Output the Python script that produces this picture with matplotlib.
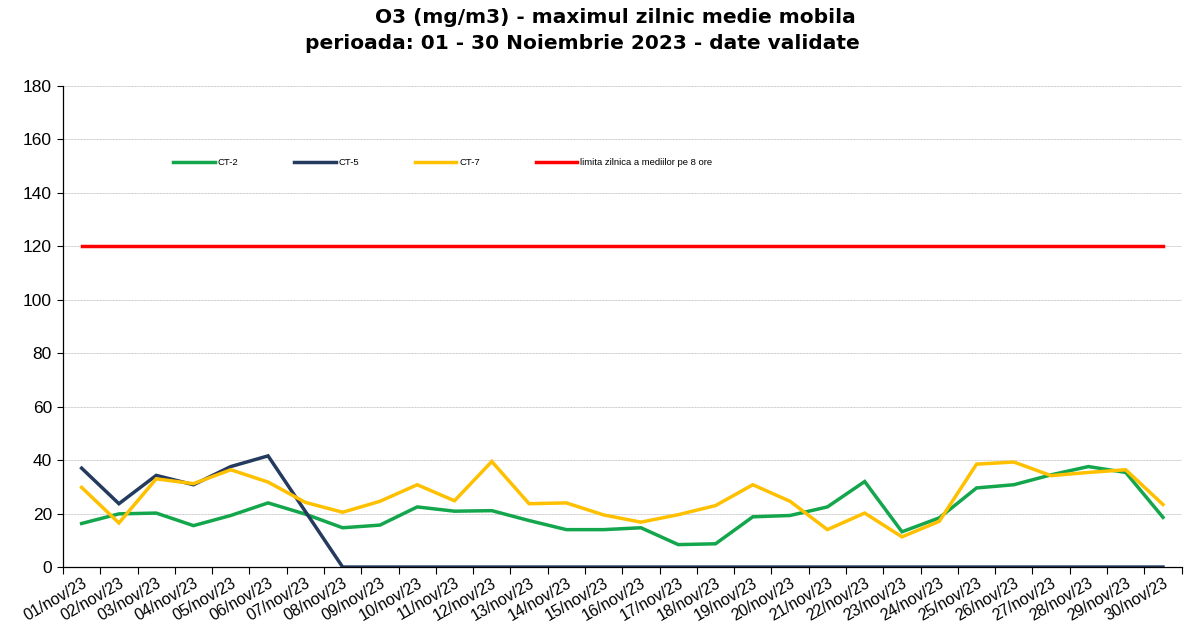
import matplotlib
matplotlib.use("Agg")
import matplotlib.pyplot as plt
import numpy as np

days = [f"{d:02d}/nov/23" for d in range(1, 31)]
ct2 = [16.3, 19.9, 20.2, 15.5, 19.3, 24.0, 19.8, 14.7, 15.7, 22.5, 20.9, 21.1, 17.4, 14.0, 14.0,
       14.7, 8.4, 8.7, 18.8, 19.3, 22.5, 32.0, 13.2, 18.4, 29.6, 30.8, 34.5, 37.6, 35.4, 18.6]
ct5 = [37.0, 23.7, 34.3, 30.8, 37.6, 41.6, 20.8, 0, 0, 0, 0, 0, 0, 0, 0,
       0, 0, 0, 0, 0, 0, 0, 0, 0, 0, 0, 0, 0, 0, 0]
ct7 = [29.8, 16.5, 33.0, 31.2, 36.4, 31.8, 24.2, 20.5, 24.6, 30.8, 24.8, 39.5, 23.7, 24.0, 19.5,
       16.8, 19.6, 23.0, 30.8, 24.6, 14.0, 20.2, 11.3, 17.1, 38.5, 39.3, 34.2, 35.4, 36.4, 23.4]
limit = [120] * 30
yticks = list(range(0, 181, 20))

fig = plt.figure(figsize=(11.84, 6.35), dpi=100)
ax = fig.add_axes([0.0532, 0.107, 0.9448, 0.7576])
x = np.arange(len(days))

ax.plot(x, ct2, color="#14A64C", lw=2.5, label="CT-2", solid_joinstyle="miter")
ax.plot(x, ct5, color="#243A5E", lw=2.5, label="CT-5", solid_joinstyle="miter")
ax.plot(x, ct7, color="#FFC000", lw=2.5, label="CT-7", solid_joinstyle="miter")
ax.plot(x, limit, color="#FF0000", lw=2.5, label="limita zilnica a mediilor pe 8 ore")

ax.set_xlim(-0.5, 29.5)
ax.set_ylim(0, 180)
ax.set_yticks(yticks)
ax.set_yticklabels([str(v) for v in yticks], fontsize=12.5, family="Liberation Sans")
ax.yaxis.grid(True, color="#C8C8C8", linestyle=(0, (1, 0.5)), lw=0.7)
ax.set_axisbelow(True)

ax.set_xticks(np.arange(-0.5, 30, 1.0), minor=False)
ax.set_xticklabels([])
ax.set_xticks(x, minor=True)
ax.set_xticklabels(days, minor=True, rotation=30, ha="right", rotation_mode="anchor",
                   fontsize=11.5, family="Liberation Sans")
ax.tick_params(axis="x", which="minor", length=0, pad=6)
ax.tick_params(axis="x", which="major", length=5, direction="out", width=0.8)
ax.tick_params(axis="y", length=4, direction="out", width=0.8, pad=4)

for s in ["top", "right"]:
    ax.spines[s].set_visible(False)
for s in ["left", "bottom"]:
    ax.spines[s].set_color("black")
    ax.spines[s].set_linewidth(0.9)

leg = ax.legend(loc="center left", bbox_to_anchor=(0.091, 0.84), ncol=4, frameon=False,
                prop={"family": "Liberation Sans", "size": 6.8}, handlelength=4.4,
                handletextpad=0.3, columnspacing=5.9)

fig.text(0.520, 0.972, "O3 (mg/m3) - maximul zilnic medie mobila", ha="center", va="center",
         fontsize=14.5, fontweight="bold", family="DejaVu Sans")
fig.text(0.492, 0.932, "perioada: 01 - 30 Noiembrie 2023 - date validate", ha="center", va="center",
         fontsize=14.5, fontweight="bold", family="DejaVu Sans")

fig.savefig("out.png", dpi=100)
